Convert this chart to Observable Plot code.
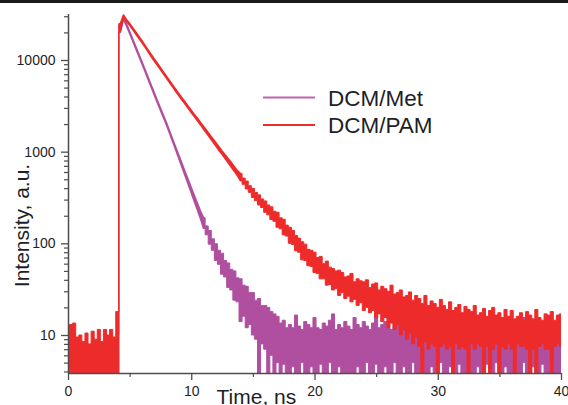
<!DOCTYPE html>
<html>
<head>
<meta charset="utf-8">
<script src="https://cdn.jsdelivr.net/npm/d3@7"></script>
<script src="https://cdn.jsdelivr.net/npm/@observablehq/plot@0.6"></script>
<style>
  body { margin: 0; background: #fff; }
  #wrap { position: relative; width: 568px; height: 405px; overflow: hidden; }
  #topbar { position: absolute; left: 0; top: 0; width: 568px; height: 3px; background: #1a1a1a; z-index: 2; }
</style>
</head>
<body>
<div id="wrap"><div id="topbar"></div></div>
<script>
// time channels (ns), 0.25 ns grid 0..40
const time = d3.range(0, 40.001, 0.25);

// DCM/PAM (red): upper / lower envelope of the noisy trace (counts), one row per ns
const pamHi = [
  11.5, 13, 13.5, 9.5,
  10, 8.5, 10.5, 8,
  11, 9, 11.5, 8.5,
  11.5, 10, 11.5, 9.5,
  18, 25000, 31000, 27500,
  25100, 22500, 20200, 18100,
  16200, 14400, 12900, 11500,
  10250, 9200, 8250, 7380,
  6620, 5940, 5320, 4770,
  4280, 3860, 3480, 3130,
  2830, 2550, 2310, 2080,
  1880, 1700, 1530, 1380,
  1250, 1130, 1020, 925,
  835, 760, 685, 620,
  575, 515, 478, 425,
  398, 360, 338, 305,
  290, 262, 250, 224,
  218, 190, 183, 158,
  150, 138, 122, 114,
  104, 98, 86, 84,
  80, 70, 72, 60,
  64, 55, 53, 50,
  51, 48, 43, 44,
  47, 38, 41, 39,
  38, 40, 33, 36,
  37, 31, 34, 32,
  30, 35, 28, 29,
  31, 26, 27, 29.5,
  24, 27, 25, 22,
  27, 21, 23.5, 22,
  20, 24.5, 21, 19,
  23, 18.5, 20, 21.5,
  17.5, 20.5, 19, 18,
  21, 16.5, 17.5, 19.5,
  16, 18.5, 20, 16.5,
  17.5, 15.5, 19, 16,
  18.5, 15, 16, 17.5,
  14.5, 18, 16.5, 15,
  19, 15.5, 14.5, 17,
  16, 18, 14.5, 16.5,
  17
];
const pamLo = [
  1, 1, 1, 1,
  1, 1, 1, 1,
  1, 1, 1, 1,
  1, 1, 1, 1,
  1, 21000, 29000, 26300,
  23900, 21500, 19200, 17300,
  15500, 13800, 12300, 10900,
  9750, 8750, 7850, 7020,
  6300, 5650, 5060, 4530,
  4060, 3660, 3300, 2970,
  2670, 2410, 2170, 1960,
  1760, 1590, 1430, 1280,
  1150, 1030, 935, 840,
  755, 675, 610, 545,
  482, 440, 392, 360,
  316, 292, 262, 246,
  218, 205, 182, 174,
  150, 144, 124, 120,
  100, 97, 83, 80,
  66, 65, 57, 56,
  48, 47, 41, 41,
  35, 35.5, 31, 32,
  27, 29, 25, 26.5,
  23, 24.5, 21, 22.5,
  18.5, 20, 17.5, 18.5,
  15.5, 17, 14, 15.5,
  12, 13.5, 11.5, 13,
  10, 11.5, 9, 10.5,
  8, 9.5, 7.5, 1,
  8.5, 7, 8, 7.5,
  1, 7.5, 8, 7,
  7.5, 1, 8, 7,
  7.5, 7, 1, 8,
  7, 8, 7.5, 1,
  7.5, 1, 7, 8,
  1, 7.5, 7, 8,
  7, 1, 8, 7.5,
  7.5, 7, 1, 7,
  1, 7.5, 8, 7,
  7, 1, 7.5, 8,
  7.5
];

// DCM/Met (purple)
const metHi = [
  null, null, null, null,
  null, null, null, null,
  null, null, null, null,
  null, null, null, null,
  10, 24000, 29500, 24600,
  20450, 16900, 14000, 11570,
  9560, 7860, 6470, 5320,
  4380, 3620, 2990, 2480,
  2050, 1670, 1360, 1110,
  905, 740, 605, 495,
  405, 333, 273, 225,
  190, 155, 138, 112,
  99, 84, 78, 65,
  61, 52, 50, 42,
  41, 35, 34, 29,
  29, 24, 25, 21,
  21, 20, 18, 17,
  16, 13.5, 14.5, 12,
  13, 12, 16.5, 12.5,
  11.5, 14, 13, 12,
  15.5, 12, 11.5, 13.5,
  12.5, 14.5, 17, 11.5,
  13, 12, 14, 12.5,
  11.5, 15.5, 13, 12,
  14, 12.5, 11.5, 13.5,
  16.5, 12, 13, 14,
  12, 11.5, 15, 13,
  13.5, 12.5, 11, 14.5,
  12, 16, 12.5, 13,
  14.5, 11.5, 12, 15.5,
  12.5, 13.5, 11.5, 12,
  14, 12, 13, 15,
  11.5, 13.5, 12.5, 14,
  12, 16, 11.5, 13,
  13.5, 12, 14, 11.5,
  12.5, 15, 12, 13.5,
  11.5, 14.5, 12.5, 13,
  15.5, 12, 13.5, 11.5,
  13, 14, 12, 12.5,
  16.5, 11.5, 13.5, 12,
  14
];
const metLo = [
  null, null, null, null,
  null, null, null, null,
  null, null, null, null,
  null, null, null, null,
  1, 20000, 28000, 23400,
  19450, 16100, 13300, 11010,
  9100, 7480, 6150, 5060,
  4160, 3430, 2840, 2350,
  1940, 1575, 1275, 1035,
  838, 676, 548, 442,
  356, 287, 231, 185,
  146, 124, 98, 84,
  65, 59, 46, 43,
  33, 31, 24, 23,
  14, 16, 12, 13,
  10, 9, 1, 8,
  7, 1, 6, 1,
  5, 1, 4.8, 1,
  1, 4.5, 1, 1,
  5, 1, 1, 4.5,
  1, 1, 4.8, 1,
  1, 5, 1, 1,
  4.5, 1, 1, 1,
  1, 1, 4.5, 1,
  1, 5, 1, 1,
  4.8, 1, 1, 4.5,
  1, 1, 5, 1,
  1, 4.5, 1, 1,
  5, 1, 1, 4.8,
  1, 1, 4.5, 1,
  1, 5, 1, 1,
  4.5, 1, 1, 4.8,
  1, 1, 5, 1,
  1, 4.5, 1, 1,
  4.8, 1, 1, 5,
  1, 1, 4.5, 1,
  1, 4.8, 1, 1,
  5, 1, 1, 4.5,
  1, 1, 4.8, 1,
  1, 5, 1, 1,
  1
];

const seriesNames = ["DCM/Met", "DCM/PAM"];
const seriesColors = ["#b04fa0", "#ee2b2b"];
const legendColors = ["#c062b2", "#ee2b2b"];
const xTicks = [0, 10, 20, 30, 40];
const xMinorTicks = [5, 15, 25, 35];
const yTicks = [10, 100, 1000, 10000];
const yMinorTicks = [4, 5, 6, 7, 8, 9, 20, 30, 40, 50, 60, 70, 80, 90,
  200, 300, 400, 500, 600, 700, 800, 900,
  2000, 3000, 4000, 5000, 6000, 7000, 8000, 9000, 20000, 30000];
const yDomain = [3.85, 31750];

const met = time.map((t, i) => ({t, hi: metHi[i], lo: metLo[i]}));
const pam = time.map((t, i) => ({t, hi: pamHi[i], lo: pamLo[i]}));
if ([pamHi, pamLo, metHi, metLo].some(a => a.length !== time.length)) {
  console.error("length mismatch", time.length, pamHi.length, pamLo.length, metHi.length, metLo.length);
}
const seg = (data, t0, t1) => data.filter(d => d.t >= t0 && d.t <= t1);

const axisColor = "#4d4d4d";
const textColor = "#1e1e28";

function band(data, color, t0, t1, curve, sw) {
  return Plot.areaY(seg(data, t0, t1), {x: "t", y1: "lo", y2: "hi", curve, fill: color, stroke: color, strokeWidth: sw, clip: true});
}

const chart = Plot.plot({
  width: 568,
  height: 405,
  marginLeft: 68,
  marginRight: 7,
  marginTop: 14,
  marginBottom: 32,
  style: {fontFamily: "'Liberation Sans', Arial, sans-serif", fontSize: "14px", color: textColor, background: "transparent"},
  x: {domain: [0, 40]},
  y: {type: "log", domain: yDomain},
  marks: [
    band(met, seriesColors[0], 4, 4.25, "step", 1),
    band(met, seriesColors[0], 4.25, 11, "linear", 1.6),
    band(met, seriesColors[0], 11, 40, "step", 1),
    band(pam, seriesColors[1], 0, 4.25, "step", 1),
    band(pam, seriesColors[1], 4.25, 14, "linear", 1.6),
    band(pam, seriesColors[1], 14, 40, "step", 1),
    Plot.ruleX([0], {stroke: axisColor, strokeWidth: 1.5}),
    Plot.ruleY([yDomain[0]], {stroke: axisColor, strokeWidth: 1.5}),
    Plot.axisY({ticks: yTicks, tickSize: 7, tickPadding: 6, tickFormat: d => String(d), label: null, stroke: axisColor, strokeWidth: 1.3, fill: textColor, fontSize: 14}),
    Plot.axisY({ticks: yMinorTicks, tickSize: 4, tickFormat: () => "", label: null, stroke: axisColor, strokeWidth: 1.2}),
    Plot.axisX({ticks: xTicks, tickSize: 7, tickPadding: 6, tickFormat: d => String(d), label: null, stroke: axisColor, strokeWidth: 1.3, fill: textColor, fontSize: 14}),
    Plot.axisX({ticks: xMinorTicks, tickSize: 4, tickFormat: () => "", label: null, stroke: axisColor, strokeWidth: 1.2})
  ]
});

const wrap = document.getElementById("wrap");
wrap.insertBefore(chart, wrap.firstChild);
chart.style.position = "absolute";
chart.style.left = "0px";
chart.style.top = "0px";

const svg = d3.select(chart);
const font = "'Liberation Sans', Arial, sans-serif";
svg.append("text")
  .attr("transform", "translate(28.5,225.5) rotate(-90)")
  .attr("text-anchor", "middle")
  .attr("font-family", font).attr("font-size", 21).attr("fill", textColor)
  .text("Intensity, a.u.");
svg.append("text")
  .attr("x", 216.5).attr("y", 404)
  .attr("text-anchor", "start")
  .attr("font-family", font).attr("font-size", 21).attr("fill", textColor)
  .text("Time, ns");

const legendY = [97.5, 125];
seriesNames.forEach((name, i) => {
  svg.append("line")
    .attr("x1", 263).attr("x2", 315).attr("y1", legendY[i]).attr("y2", legendY[i])
    .attr("stroke", legendColors[i]).attr("stroke-width", 2.2);
  svg.append("text")
    .attr("x", 328).attr("y", legendY[i]).attr("dy", "0.36em")
    .attr("text-anchor", "start")
    .attr("font-family", font).attr("font-size", 22.5).attr("fill", textColor)
    .text(name);
});
</script>
</body>
</html>
